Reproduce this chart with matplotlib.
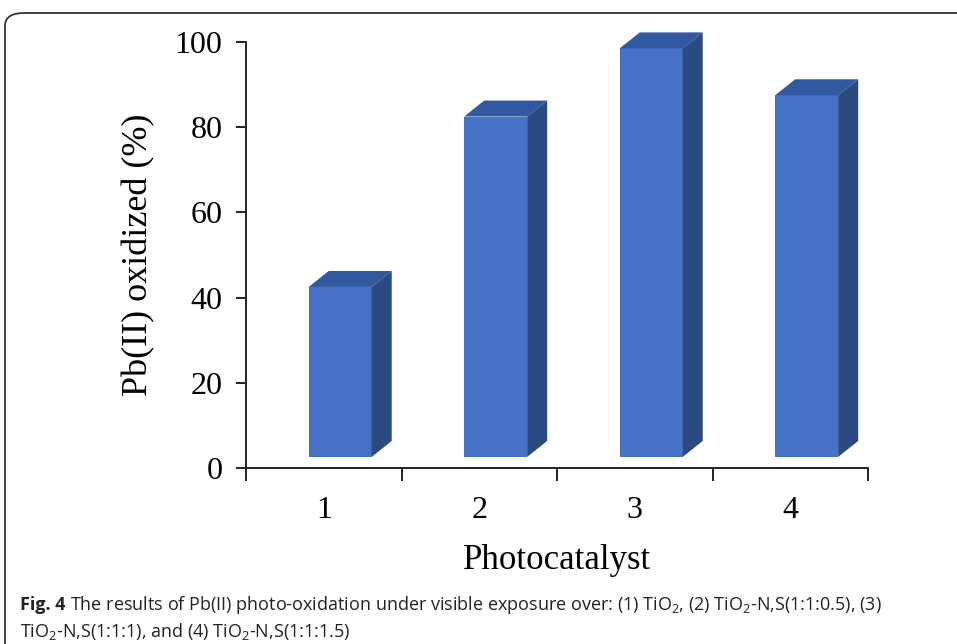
import matplotlib.pyplot as plt
from matplotlib.patches import Polygon, FancyBboxPatch
from matplotlib.transforms import offset_copy

plt.rcParams['mathtext.fontset'] = 'custom'
plt.rcParams['mathtext.rm'] = 'Open Sans'

# data
catalysts = ["1", "2", "3", "4"]
oxidized = [42.5, 82.5, 98.5, 87.5]

front_col = "#4472C4"
top_col = "#3258A0"
side_col = "#2B4A82"
serif = ["Liberation Serif", "DejaVu Serif"]

fig = plt.figure(figsize=(9.57, 6.44), dpi=100)

# rounded frame around the figure panel
frame = FancyBboxPatch((5 / 957, -0.2), 1.2, 1.2 - 13 / 644,
                       boxstyle="round,pad=0,rounding_size=0.02",
                       transform=fig.transFigure, fill=False,
                       edgecolor="#333333", linewidth=1.3)
fig.patches.append(frame)

ax = fig.add_axes([246 / 957, 1 - 468 / 644, 622 / 957, 426 / 644])
ax.set_xlim(0.5, 4.5)
ax.set_ylim(0, 100)

x = list(range(1, len(catalysts) + 1))
w = 0.405
off = -0.097
dx = 0.129
dy = 3.75
base = 2.6

ax.bar([xi + off for xi in x], [v - base for v in oxidized], width=w,
       bottom=base, align="edge", color=front_col, zorder=3)
for xi, v in zip(x, oxidized):
    xl = xi + off
    xr = xl + w
    top = Polygon([(xl, v), (xr, v), (xr + dx, v + dy), (xl + dx, v + dy)],
                  closed=True, facecolor=top_col, edgecolor="none", zorder=3,
                  clip_on=False)
    side = Polygon([(xr, base), (xr, v), (xr + dx, v + dy), (xr + dx, base + dy)],
                   closed=True, facecolor=side_col, edgecolor="none", zorder=3,
                   clip_on=False)
    ax.add_patch(top)
    ax.add_patch(side)

for s in ["top", "right"]:
    ax.spines[s].set_visible(False)
for s in ["left", "bottom"]:
    ax.spines[s].set_linewidth(1.4)
    ax.spines[s].set_color("#222222")

ax.set_yticks(range(0, 101, 20))
ax.tick_params(axis="y", direction="out", length=7, width=1.4, pad=10,
               labelsize=23, color="#222222")
ax.set_xticks([0.5, 1.5, 2.5, 3.5, 4.5])
ax.set_xticklabels([])
ax.set_xticks(x, minor=True)
ax.set_xticklabels(catalysts, minor=True)
ax.tick_params(axis="x", which="major", direction="out", length=9, width=1.4,
               color="#222222")
ax.tick_params(axis="x", which="minor", length=0, pad=20, labelsize=23)
for lab in ax.get_yticklabels() + ax.get_xticklabels(minor=True):
    lab.set_family(serif)

ax.set_ylabel("Pb(II) oxidized (%)", family=serif, fontsize=26, labelpad=14)
ax.set_xlabel("Photocatalyst", family=serif, fontsize=25, labelpad=14)

# caption
cap_size = 13
y1 = 1 - 605 / 644
y2 = 1 - 631 / 644
bold = fig.text(20 / 957, y1, "Fig. 4", family="Open Sans", weight="bold",
                fontsize=cap_size, va="center", color="#222222")
fig.canvas.draw()
bb = bold.get_window_extent()
fig.text((bb.x1 + 5) / fig.bbox.width, y1,
         r"The results of Pb(II) photo-oxidation under visible exposure over: "
         r"(1) TiO$_2$, (2) TiO$_2$-N,S(1:1:0.5), (3)",
         family="Open Sans", fontsize=cap_size, va="center", color="#222222")
fig.text(20 / 957, y2,
         r"TiO$_2$-N,S(1:1:1), and (4) TiO$_2$-N,S(1:1:1.5)",
         family="Open Sans", fontsize=cap_size, va="center", color="#222222")

fig.savefig("out.png", dpi=100)
